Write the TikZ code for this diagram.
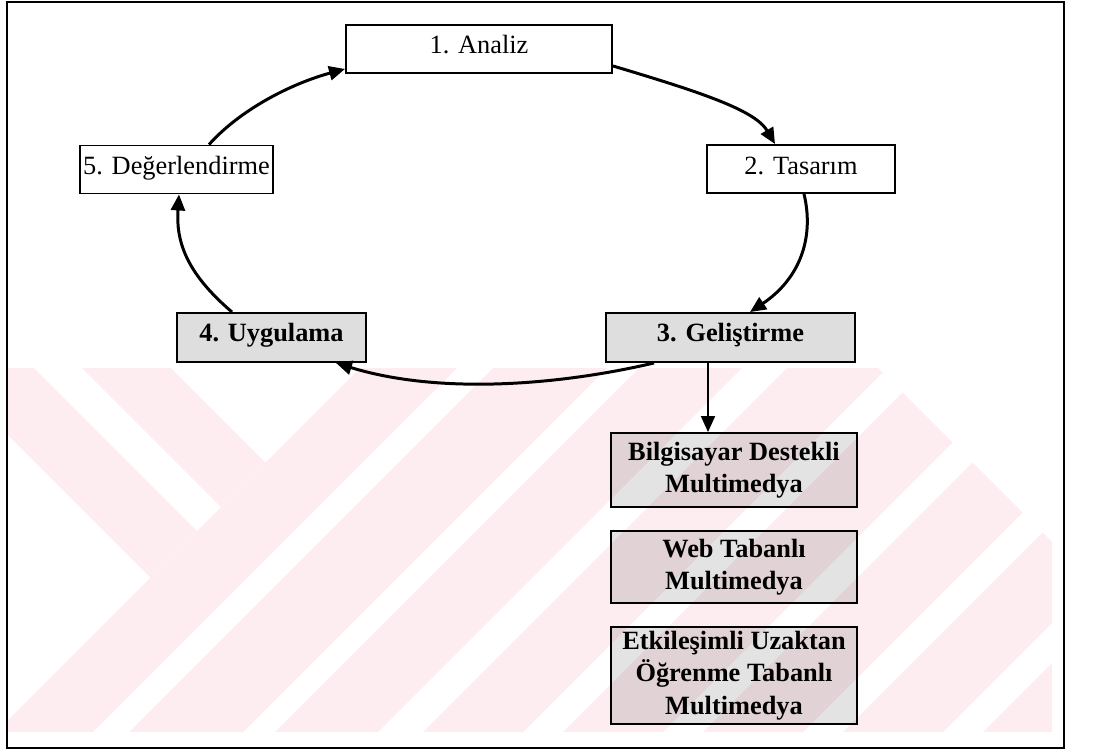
\documentclass[tikz,border=0pt]{standalone}
\usepackage{fontspec}
\setmainfont{Liberation Serif}
\usetikzlibrary{arrows.meta}
\definecolor{wm}{RGB}{253,236,240}
\begin{document}
\begin{tikzpicture}[x=0.02cm,y=-0.02cm,
  box/.style={draw=black, line width=1.1pt, inner sep=0pt, font=\fontsize{15}{18}\selectfont},
  plain/.style={box, fill=white, text height=0.58cm, text depth=0.38cm},
  shade/.style={box, fill=black!13, font=\fontsize{15}{18}\selectfont\bfseries, text height=0.57cm, text depth=0.41cm},
  sub/.style={box, align=center, fill=black, fill opacity=0.11, text opacity=1, draw opacity=1,
    font=\fontsize{15}{18.5}\selectfont\bfseries, minimum width=4.92cm},
  flow/.style={line width=1.7pt, -{Triangle[length=0.32cm, width=0.28cm]}},
  drop/.style={line width=1.1pt, -{Triangle[length=0.32cm, width=0.28cm]}},
]
\useasboundingbox (0,0) rectangle (1114,750);

% faint diagonal background emblem
\begin{scope}
  \clip (7,368) rectangle (1052,731);
  \begin{scope}
    \clip (0,300) -- (810,300) -- (1300,790) -- (0,790) -- cycle;
    \foreach \a/\b in {728/825, 861/975, 1007/1110, 1155/1255, 1295/1395, 1435/1535, 1575/1675, 1715/1815, 1855/1955}
      \fill[wm] (\a-300,300) -- (\b-300,300) -- (\b-790,790) -- (\a-790,790) -- cycle;
  \end{scope}
  \fill[wm] (-127,300) -- (-34,300) -- (197,531) -- (150.5,577.5) -- cycle;
  \fill[wm] (14,300) -- (103,300) -- (265.5,462.5) -- (221,507) -- cycle;
\end{scope}

% outer frame
\draw[line width=1.1pt] (7,2) rectangle (1064,748);

% cycle stages
\node[plain, minimum width=5.32cm] (an) at (479,49) {1. Analiz};
\node[plain, minimum width=3.76cm] (ta) at (801,169) {2. Tasarım};
\node[shade, minimum width=4.98cm] (ge) at (730.5,337.5) {3. Geliştirme};
\node[shade, minimum width=3.78cm] (uy) at (271.5,337.5) {4. Uygulama};
\node[plain, minimum width=3.86cm] (de) at (176.5,169.5) {5. Değerlendirme};

% development products
\node[sub, minimum height=1.48cm] (bi) at (734,470) {Bilgisayar Destekli\\Multimedya};
\node[sub, minimum height=1.44cm] (wb) at (734,567) {Web Tabanlı\\Multimedya};
\node[sub, minimum height=1.94cm] (et) at (734,675.5) {Etkileşimli Uzaktan\\Öğrenme Tabanlı\\Multimedya};

% cycle arrows
\draw[flow] ([yshift=0.16cm]an.south east) .. controls (700,92) and (755,110) .. ([xshift=-0.52cm]ta.north);
\draw[flow] ([xshift=0.06cm]ta.south) .. controls (815,240) and (798,280) .. ([xshift=0.39cm]ge.north);
\draw[flow] ([xshift=-1.53cm]ge.south) .. controls (560,385) and (440,395) .. ([xshift=1.29cm]uy.south);
\draw[flow] ([xshift=-0.79cm]uy.north) .. controls (185,272) and (176,240) .. ([xshift=0.05cm]de.south);
\draw[flow] ([xshift=0.65cm]de.north) .. controls (240,110) and (290,84) .. ([yshift=0.1cm]an.south west);

% branch to products
\draw[drop] ([xshift=-0.52cm]bi.north |- ge.south) -- ([xshift=-0.52cm]bi.north);
\end{tikzpicture}
\end{document}
